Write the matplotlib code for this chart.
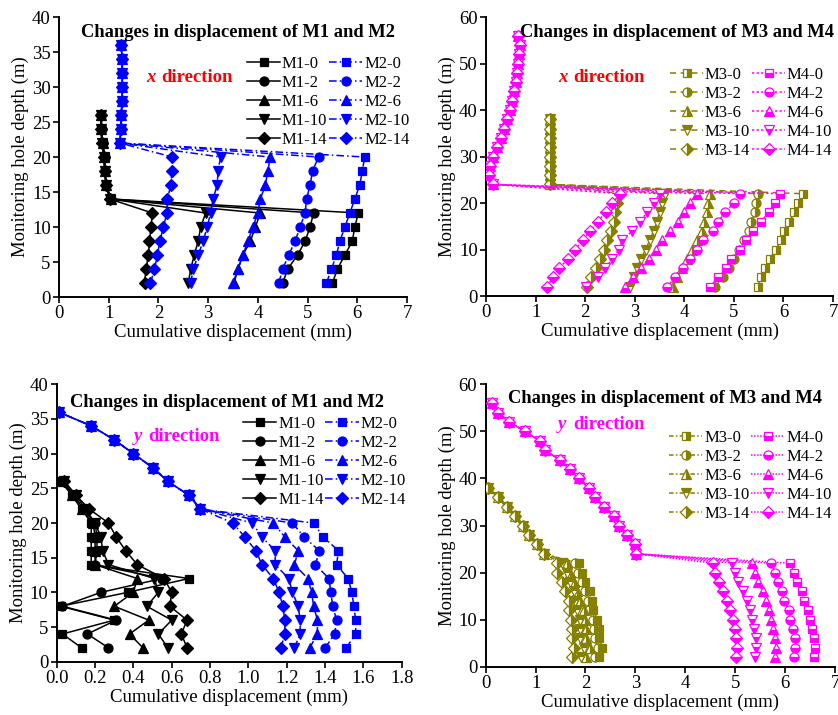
import numpy as np
import matplotlib as mpl
mpl.use('Agg')
import matplotlib.pyplot as plt

plt.rcParams['font.family'] = ['Liberation Serif', 'DejaVu Serif']

# depth of the measuring points (m)
d_m1 = np.arange(2, 27, 2)
d_m2 = np.arange(2, 37, 2)
d_m3 = np.arange(2, 39, 2)
d_m4 = np.arange(2, 57, 2)

labels_t = ['0', '2', '6', '10', '14']

# ---------------- x direction, M1 / M2 ----------------
M1x_0 = [5.50, 5.60, 5.75, 5.90, 5.95, 6.02, 1.05, 0.95, 0.92, 0.92, 0.88, 0.85, 0.85]
M1x_2 = [4.50, 4.60, 4.80, 4.95, 5.05, 5.12, 1.05, 0.95, 0.93, 0.92, 0.88, 0.86, 0.85]
M1x_6 = [3.52, 3.60, 3.70, 3.85, 3.95, 4.05, 1.04, 0.95, 0.92, 0.91, 0.88, 0.85, 0.85]
M1x_10 = [2.60, 2.65, 2.72, 2.80, 2.85, 2.95, 1.03, 0.95, 0.92, 0.91, 0.87, 0.85, 0.84]
M1x_14 = [1.72, 1.75, 1.80, 1.82, 1.85, 1.88, 1.02, 0.94, 0.92, 0.90, 0.86, 0.84, 0.84]

M2x_top = [1.22, 1.25, 1.25, 1.27, 1.27, 1.27, 1.27, 1.25]
M2x_0 = [5.38, 5.48, 5.58, 5.65, 5.75, 5.85, 5.95, 6.05, 6.10, 6.15]
M2x_2 = [4.42, 4.50, 4.62, 4.75, 4.85, 4.95, 4.98, 5.05, 5.10, 5.22]
M2x_6 = [3.50, 3.60, 3.70, 3.80, 3.90, 4.00, 4.05, 4.15, 4.20, 4.25]
M2x_10 = [2.65, 2.70, 2.80, 2.90, 2.98, 3.05, 3.10, 3.18, 3.20, 3.25]
M2x_14 = [1.84, 1.92, 1.98, 2.03, 2.10, 2.17, 2.18, 2.25, 2.27, 2.28]

# ---------------- x direction, M3 / M4 ----------------
M3x_top = [1.30, 1.30, 1.30, 1.30, 1.30, 1.30, 1.30, 1.30]
M3x_0 = [5.48, 5.55, 5.62, 5.72, 5.85, 5.95, 6.02, 6.12, 6.22, 6.30, 6.40]
M3x_2 = [4.62, 4.78, 4.90, 5.00, 5.10, 5.20, 5.30, 5.35, 5.43, 5.45, 5.48]
M3x_6 = [3.77, 3.85, 3.95, 4.05, 4.15, 4.25, 4.35, 4.40, 4.45, 4.47, 4.52]
M3x_10 = [2.90, 2.98, 3.05, 3.12, 3.22, 3.30, 3.38, 3.45, 3.50, 3.55, 3.60]
M3x_14 = [2.03, 2.12, 2.22, 2.30, 2.38, 2.45, 2.52, 2.58, 2.60, 2.65, 2.70]

M4x_top = [0.15, 0.05, 0.08, 0.15, 0.22, 0.30, 0.36, 0.42, 0.48, 0.53, 0.57,
           0.60, 0.63, 0.65, 0.67, 0.68, 0.65]
M4x_0 = [4.52, 4.68, 4.85, 4.95, 5.12, 5.25, 5.39, 5.55, 5.70, 5.83, 5.93]
M4x_2 = [3.65, 3.82, 3.98, 4.12, 4.25, 4.38, 4.57, 4.68, 4.82, 5.00, 5.12]
M4x_6 = [2.80, 2.97, 3.12, 3.28, 3.42, 3.55, 3.72, 3.87, 4.00, 4.12, 4.25]
M4x_10 = [2.02, 2.25, 2.40, 2.55, 2.68, 2.75, 2.95, 3.10, 3.25, 3.38, 3.50]
M4x_14 = [1.23, 1.35, 1.48, 1.65, 1.80, 1.95, 2.10, 2.25, 2.42, 2.55, 2.70]

# ---------------- y direction, M1 / M2 ----------------
M1y_0 = [0.13, 0.03, 0.30, 0.02, 0.37, 0.69, 0.18, 0.18, 0.18, 0.18, 0.13, 0.08, 0.02]
M1y_2 = [0.27, 0.16, 0.31, 0.03, 0.23, 0.55, 0.20, 0.21, 0.21, 0.20, 0.14, 0.09, 0.03]
M1y_6 = [0.45, 0.38, 0.48, 0.30, 0.40, 0.42, 0.20, 0.20, 0.20, 0.19, 0.13, 0.08, 0.03]
M1y_10 = [0.58, 0.53, 0.60, 0.47, 0.53, 0.51, 0.27, 0.24, 0.23, 0.20, 0.15, 0.10, 0.04]
M1y_14 = [0.68, 0.65, 0.68, 0.59, 0.60, 0.56, 0.42, 0.36, 0.31, 0.27, 0.17, 0.10, 0.04]

M2y_top = [0.75, 0.69, 0.58, 0.50, 0.40, 0.30, 0.18, 0.01]
M2y_0 = [1.51, 1.56, 1.56, 1.55, 1.54, 1.52, 1.46, 1.47, 1.39, 1.34]
M2y_2 = [1.40, 1.45, 1.46, 1.44, 1.43, 1.42, 1.35, 1.37, 1.29, 1.23]
M2y_6 = [1.32, 1.36, 1.36, 1.34, 1.33, 1.31, 1.24, 1.26, 1.19, 1.13]
M2y_10 = [1.24, 1.27, 1.27, 1.26, 1.23, 1.21, 1.14, 1.14, 1.07, 1.02]
M2y_14 = [1.17, 1.19, 1.19, 1.18, 1.16, 1.13, 1.07, 1.04, 0.98, 0.92]

# ---------------- y direction, M3 / M4 ----------------
M3y_top = [1.16, 1.02, 0.86, 0.74, 0.59, 0.42, 0.25, 0.05]
M3y_0 = [2.27, 2.34, 2.28, 2.27, 2.24, 2.16, 2.14, 2.09, 2.00, 1.92, 1.86]
M3y_2 = [2.20, 2.25, 2.20, 2.18, 2.15, 2.08, 2.05, 2.00, 1.92, 1.85, 1.78]
M3y_6 = [2.02, 2.09, 2.02, 2.02, 1.99, 1.96, 1.89, 1.82, 1.76, 1.69, 1.62]
M3y_10 = [1.90, 1.96, 1.89, 1.88, 1.88, 1.82, 1.79, 1.76, 1.69, 1.62, 1.52]
M3y_14 = [1.72, 1.76, 1.72, 1.72, 1.70, 1.67, 1.66, 1.59, 1.52, 1.42, 1.42]

M4y_top = [3.01, 2.99, 2.83, 2.67, 2.58, 2.38, 2.20, 2.07, 1.87, 1.69, 1.48,
           1.18, 1.08, 0.79, 0.47, 0.25, 0.12]
M4y_0 = [6.57, 6.59, 6.58, 6.53, 6.49, 6.45, 6.37, 6.33, 6.23, 6.18, 6.10]
M4y_2 = [6.18, 6.20, 6.19, 6.15, 6.10, 6.07, 5.98, 5.93, 5.85, 5.80, 5.71]
M4y_6 = [5.80, 5.82, 5.80, 5.76, 5.72, 5.68, 5.61, 5.55, 5.45, 5.40, 5.33]
M4y_10 = [5.40, 5.42, 5.42, 5.38, 5.34, 5.30, 5.23, 5.16, 5.06, 5.00, 4.93]
M4y_14 = [5.02, 5.03, 5.02, 5.00, 4.95, 4.90, 4.83, 4.76, 4.68, 4.60, 4.56]

markers = ['s', 'o', '^', 'v', 'D']
msizes = [6, 6.5, 7, 7, 6]
OLIVE = '#858000'
MAG = '#FF00FF'
BLUE = '#0000FF'


#坐标轴样式
def style_axes(ax, xmax, ymax, ystep, xticks, xfmt):
	ax.set_xlim(0, xmax)
	ax.set_ylim(0, ymax)
	ax.set_yticks(np.arange(0, ymax + 1, ystep))
	ax.set_xticks(xticks)
	ax.set_xticklabels([xfmt % v for v in xticks])
	for s in ['top', 'right']:
		ax.spines[s].set_visible(False)
	for s in ['left', 'bottom']:
		ax.spines[s].set_linewidth(1.4)
	ax.tick_params(direction='out', length=4, width=1.2, labelsize=13.5, pad=2)
	ax.set_xlabel('Cumulative displacement (mm)', fontsize=13.5, labelpad=1)
	ax.set_ylabel('Monitoring hole depth (m)', fontsize=13.5, labelpad=2)


#标题、方向文字、图例
def decorate(ax, title, tx, ty, letter, color, dx, dy, lx, ly):
	ax.text(tx, ty, title, transform=ax.transAxes, fontsize=13.3, weight='bold',
			ha='center', va='center')
	ax.text(dx, dy, letter, color=color, fontsize=13.5, style='italic', weight='bold', va='center')
	ax.annotate('direction', xy=(dx, dy), xytext=(11, 0), textcoords='offset points',
				color=color, fontsize=13.5, weight='bold', va='center')
	ax.legend(ncol=2, loc='upper left', bbox_to_anchor=(lx, ly), frameon=False,
			  fontsize=12, handlelength=2.0, handletextpad=0.1, columnspacing=0.1,
			  labelspacing=0.18, borderpad=0, borderaxespad=0)


#画一组测孔曲线
def draw_series(ax, depth, vals, name, color, ls, fills, mfc_alt='white'):
	for i in range(5):
		ax.plot(vals[i], depth, color=color, ls=ls, lw=1.1, marker=markers[i],
				ms=msizes[i], mec=color, mfc=color, mew=0.9, fillstyle=fills[i],
				markerfacecoloralt=mfc_alt, label='%s-%s' % (name, labels_t[i]), zorder=3)


fig = plt.figure(figsize=(8.38, 7.15), dpi=100)
ax1 = fig.add_axes([0.0704, 0.5846, 0.4153, 0.3916])
ax2 = fig.add_axes([0.5800, 0.5860, 0.4141, 0.3902])
ax3 = fig.add_axes([0.0677, 0.0745, 0.4117, 0.3880])
ax4 = fig.add_axes([0.5796, 0.0675, 0.4168, 0.3950])

full = ['full'] * 5
half3 = ['right', 'right', 'right', 'top', 'right']
half4 = ['bottom'] * 5
dashdot = (0, (5, 2, 1, 2))

# 子图1
m1 = [M1x_0, M1x_2, M1x_6, M1x_10, M1x_14]
m2 = [M2x_0 + M2x_top, M2x_2 + M2x_top, M2x_6 + M2x_top, M2x_10 + M2x_top, M2x_14 + M2x_top]
draw_series(ax1, d_m1, m1, 'M1', 'black', '-', full)
draw_series(ax1, d_m2, m2, 'M2', BLUE, dashdot, full)
style_axes(ax1, 7, 40, 5, np.arange(0, 8), '%d')
decorate(ax1, 'Changes in displacement of M1 and M2', 0.513, 0.943, 'x', 'red',
		 1.75, 31.3, 0.54, 0.862)

# 子图2
m3 = [M3x_0 + M3x_top, M3x_2 + M3x_top, M3x_6 + M3x_top, M3x_10 + M3x_top, M3x_14 + M3x_top]
m4 = [M4x_0 + M4x_top, M4x_2 + M4x_top, M4x_6 + M4x_top, M4x_10 + M4x_top, M4x_14 + M4x_top]
draw_series(ax2, d_m3, m3, 'M3', OLIVE, (0, (4, 3)), half3)
draw_series(ax2, d_m4, m4, 'M4', MAG, (0, (1.5, 1.5)), half4)
style_axes(ax2, 7, 60, 10, np.arange(0, 8), '%d')
decorate(ax2, 'Changes in displacement of M3 and M4', 0.549, 0.943, 'x', 'red',
		 1.45, 47, 0.53, 0.82)

# 子图3
m1 = [M1y_0, M1y_2, M1y_6, M1y_10, M1y_14]
m2 = [M2y_0 + M2y_top, M2y_2 + M2y_top, M2y_6 + M2y_top, M2y_10 + M2y_top, M2y_14 + M2y_top]
draw_series(ax3, d_m1, m1, 'M1', 'black', '-', full)
draw_series(ax3, d_m2, m2, 'M2', BLUE, dashdot, full)
style_axes(ax3, 1.8, 40, 5, np.round(np.arange(0, 1.81, 0.2), 1), '%.1f')
decorate(ax3, 'Changes in displacement of M1 and M2', 0.494, 0.933, 'y', MAG,
		 0.4, 32.5, 0.54, 0.885)

# 子图4
m3 = [M3y_0 + M3y_top, M3y_2 + M3y_top, M3y_6 + M3y_top, M3y_10 + M3y_top, M3y_14 + M3y_top]
m4 = [M4y_0 + M4y_top, M4y_2 + M4y_top, M4y_6 + M4y_top, M4y_10 + M4y_top, M4y_14 + M4y_top]
draw_series(ax4, d_m3, m3, 'M3', OLIVE, (0, (3, 1.5, 1, 1.5)), half3)
draw_series(ax4, d_m4, m4, 'M4', MAG, (0, (1, 1)), half4)
style_axes(ax4, 7, 60, 10, np.arange(0, 8), '%d')
decorate(ax4, 'Changes in displacement of M3 and M4', 0.512, 0.951, 'y', MAG,
		 1.45, 51.5, 0.525, 0.84)

plt.savefig('out.png', dpi=100)
